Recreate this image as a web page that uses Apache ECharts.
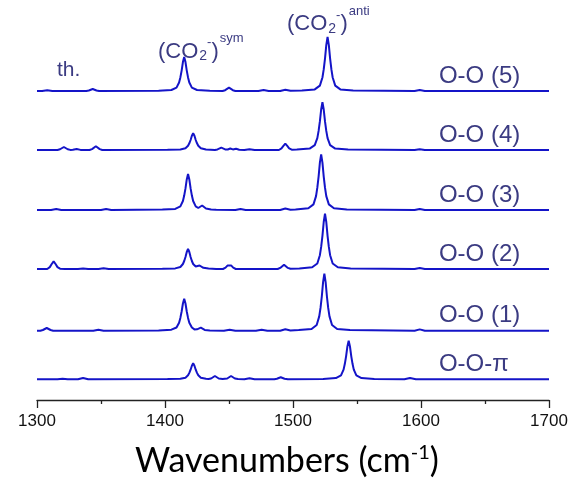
<!DOCTYPE html>
<html>
<head>
<meta charset="utf-8">
<script src="https://cdn.jsdelivr.net/npm/echarts@6/dist/echarts.min.js"></script>
<style>
    html, body { margin: 0; padding: 0; background: #fff; }
    #main { width: 573px; height: 483px; }
</style>
</head>
<body>
<div id="main"></div>
<script>
    // spectra, bottom to top; [wavenumber, intensity above own baseline]
    var names = ['O-O-\u03c0', 'O-O (1)', 'O-O (2)', 'O-O (3)', 'O-O (4)', 'O-O (5)'];
    var offsets = [20.7, 69.3, 131, 190, 250, 309];
    var xMin = 1300, xMax = 1700, xStep = 100;

    var specPi = [
        [1300,0],[1316,0],[1320,0.5],[1324,0],[1332,0],[1336,1.3],[1340,0],
        [1402,0.2],[1412,0.5],[1416,1.6],[1418,4],[1419,6.4],[1420,9.6],[1421,13.6],[1422,16],[1423,13.6],[1424,9.6],[1425,6.4],[1426,4],[1428,1.6],[1432,0.5],
        [1434,0.3],[1436,0.8],[1437.5,2.1],[1439,3.3],[1440.5,2.1],[1442,0.8],[1445,0.3],[1448.6,0.8],[1450.1,2.1],[1451.6,3.3],[1453.1,2.1],[1454.6,0.8],[1457,0.2],[1462,0],[1466,1],[1470,0],
        [1485.4,0],[1487.4,0.5],[1488.9,1.3],[1490.4,2],[1491.9,1.3],[1493.4,0.5],[1496,0],
        [1523.5,0.4],[1533.5,1.2],[1537.5,3.9],[1539.5,9.7],[1540.5,15.5],[1541.5,23.2],[1542.5,32.9],[1543.5,38.7],[1544.5,32.9],[1545.5,23.2],[1546.5,15.5],[1547.5,9.7],[1549.5,3.9],[1553.5,1.2],[1563.5,0.4],
        [1587,0],[1591.4,1.3],[1596,0],[1700,0]
    ];
    var spec1 = [
        [1300,0],[1302.6,0],[1304.6,0.7],[1306.1,1.8],[1307.6,2.7],[1309.1,1.8],[1310.6,0.7],[1312.6,0],[1344,0],[1348,1],[1352,0],
        [1395,0.3],[1405,1],[1409,3.2],[1411,8],[1412,12.8],[1413,19.2],[1414,27.2],[1415,32],[1416,27.2],[1417,19.2],[1418,12.8],[1419,8],[1421,3.2],[1423,1.3],[1425,1.4],[1426.5,2.2],[1428,3],[1429.5,2],[1431,0.8],[1435,0.3],
        [1446,0],[1450.5,1],[1455,0],[1471,0],[1475.5,1],[1480,0],[1490,0],[1494,1.5],[1498,0.2],
        [1504.5,0.6],[1514.5,1.7],[1518.5,5.7],[1520.5,14.3],[1521.5,22.8],[1522.5,34.2],[1523.5,48.5],[1524.5,57],[1525.5,48.5],[1526.5,34.2],[1527.5,22.8],[1528.5,14.3],[1530.5,5.7],[1534.5,1.7],[1544.5,0.6],
        [1595,0],[1599,1.3],[1603,0],[1700,0]
    ];
    var spec2 = [
        [1300,0],[1308,0],[1310,1.9],[1311.5,5],[1313,7.7],[1314.5,5],[1316,1.9],[1318,0.3],[1322,0],[1332,0],[1336,0.5],[1340,0],[1348,0],[1352,0.7],[1356,0],
        [1398,0.2],[1408,0.6],[1412,2],[1414,5],[1415,8],[1416,12],[1417,17],[1418,20],[1419,17],[1420,12],[1421,8],[1422,5],[1424,2.5],[1425.5,3],[1427,3.5],[1428.5,2.5],[1430,1.2],[1434,0.4],[1440,0.1],
        [1445.3,0],[1447.3,1.3],[1448.8,3.4],[1450.3,5.3],[1451.8,3.4],[1453.3,1.3],[1455.3,0],
        [1488,0],[1490,1.1],[1491.5,2.8],[1493,4.3],[1494.5,2.8],[1496,1.1],[1498,0.2],
        [1505,0.6],[1515,1.7],[1519,5.5],[1521,13.8],[1522,22.1],[1523,33.2],[1524,47],[1525,55.3],[1526,47],[1527,33.2],[1528,22.1],[1529,13.8],[1531,5.5],[1535,1.7],[1545,0.6],
        [1595,0],[1599,1],[1603,0],[1700,0]
    ];
    var spec3 = [
        [1300,0],[1311,0],[1315,1],[1319,0],[1350,0],[1354,1],[1358,0],
        [1398,0.4],[1408,1.1],[1412,3.6],[1414,9],[1415,14.4],[1416,21.6],[1417,30.6],[1418,36],[1419,30.6],[1420,21.6],[1421,14.4],[1422,9],[1424,3.6],
        [1426,2],[1427.5,3],[1429,4.5],[1430.5,3],[1432,1.5],[1436,0.5],[1440,0.2],
        [1455,0],[1459,1],[1463,0],[1490,0],[1494,1.5],[1498,0.2],
        [1502,0.6],[1512,1.7],[1516,5.6],[1518,13.9],[1519,22.3],[1520,33.4],[1521,47.3],[1522,55.7],[1523,47.3],[1524,33.4],[1525,22.3],[1526,13.9],[1528,5.6],[1532,1.7],[1542,0.6],
        [1595,0],[1599,1],[1603,0],[1700,0]
    ];
    var spec4 = [
        [1300,0],[1316,0],[1318,0.75],[1319.5,1.95],[1321,3],[1322.5,1.95],[1324,0.75],[1326,0.1],[1328,0.2],[1331,1],[1334,0.1],[1341,0],[1343,0.9],[1344.5,2.4],[1346,3.7],[1347.5,2.4],[1349,0.9],[1351,0],
        [1402,0.2],[1412,0.5],[1416,1.7],[1418,4.2],[1419,6.7],[1420,10],[1421,14.2],[1422,16.7],[1423,14.2],[1424,10],[1425,6.7],[1426,4.2],[1428,1.7],[1432,0.5],
        [1439,0.1],[1441,0.6],[1442.5,1.5],[1444,2.3],[1445.5,1.5],[1447,0.6],[1449,0.5],[1451,1.5],[1453,0.6],[1455.5,1.3],[1458,0.3],[1462,0],[1466,0.7],[1470,0],
        [1489,0],[1491,1.6],[1492.5,4.1],[1494,6.3],[1495.5,4.1],[1497,1.6],[1499,0.3],
        [1503,0.5],[1513,1.4],[1517,4.8],[1519,11.9],[1520,19.1],[1521,28.6],[1522,40.5],[1523,47.7],[1524,40.5],[1525,28.6],[1526,19.1],[1527,11.9],[1529,4.8],[1533,1.4],[1543,0.5],
        [1595,0],[1599,0.7],[1603,0],[1700,0]
    ];
    var spec5 = [
        [1300,0],[1304,0],[1308,0.7],[1312,0],[1338.5,0],[1340.5,0.5],[1342,1.3],[1343.5,2],[1345,1.3],[1346.5,0.5],[1348.5,0],
        [1395,0.3],[1405,1],[1409,3.4],[1411,8.5],[1412,13.6],[1413,20.4],[1414,28.9],[1415,34],[1416,28.9],[1417,20.4],[1418,13.6],[1419,8.5],[1421,3.4],[1425,1],[1435,0.3],
        [1445,0],[1447,0.8],[1448.5,2.1],[1450,3.3],[1451.5,2.1],[1453,0.8],[1455,0],[1473,0],[1477,1],[1481,0],[1490,0],[1494,1.3],[1498,0.2],
        [1507,0.5],[1517,1.6],[1521,5.4],[1523,13.5],[1524,21.6],[1525,32.4],[1526,45.9],[1527,54],[1528,45.9],[1529,32.4],[1530,21.6],[1531,13.5],[1533,5.4],[1537,1.6],[1547,0.5],
        [1595,0],[1599,1],[1603,0],[1700,0]
    ];
    var spectra = [specPi, spec1, spec2, spec3, spec4, spec5];

    var lineColor = '#1414c8';
    var textColor = '#3b3b82';
    var sans = '"Liberation Sans", Arial, sans-serif';

    var myChart = echarts.init(document.getElementById('main'));

    var series = [];
    for (var i = 0; i < spectra.length; i++) {
        series.push({
            name: names[i],
            type: 'line',
            showSymbol: false,
            animation: false,
            lineStyle: { color: lineColor, width: 2 },
            data: spectra[i].map(function (p) {
                return [p[0], p[1] + this];
            }, offsets[i])
        });
    }

    var option = {
        backgroundColor: '#fff',
        grid: { left: 37, right: 24, top: 0, bottom: 83 },
        xAxis: {
            type: 'value',
            min: xMin,
            max: xMax,
            interval: xStep,
            axisLine: { show: true, onZero: false, lineStyle: { color: '#222', width: 1.3 } },
            axisTick: { show: true, inside: false, length: 8, lineStyle: { color: '#222', width: 1.3 } },
            minorTick: { show: true, splitNumber: 2, length: 4, lineStyle: { color: '#222', width: 1.3 } },
            splitLine: { show: false },
            axisLabel: {
                fontSize: 17, color: '#111', margin: 13, fontFamily: sans,
                formatter: function (v) { return String(v); }
            }
        },
        yAxis: { type: 'value', min: 0, max: 400, show: false },
        series: series
    };
    myChart.setOption(option);

    // text helpers: pieces with sub/superscripts laid out with measured widths
    var ctx = document.createElement('canvas').getContext('2d');
    function textWidth(t, size, family) {
        ctx.font = size + 'px ' + family;
        return ctx.measureText(t).width;
    }
    function scriptText(x, base, parts, family, color) {
        var els = [];
        parts.forEach(function (p) {
            x += p.gap || 0;
            els.push({
                type: 'text', silent: true,
                x: x, y: base + (p.dy || 0) - 0.35 * p.size,
                style: { text: p.t, font: p.size + 'px ' + family, fill: color, textAlign: 'left', verticalAlign: 'middle' }
            });
            x += textWidth(p.t, p.size, family);
        });
        return els;
    }
    function px(x, y) { return myChart.convertToPixel({ gridIndex: 0 }, [x, y]); }
    function co2(tag) {
        return [
            { t: '(CO', size: 22 }, { t: '2', size: 14, dy: 2, gap: 1 }, { t: '-', size: 13, dy: -12, gap: 0 },
            { t: ')', size: 22, gap: 0 }, { t: tag, size: 13, dy: -16, gap: 1 }
        ];
    }

    var graphics = [];
    // spectrum names on the right
    for (var j = 0; j < names.length; j++) {
        var q = px(1614, offsets[j] + 15);
        graphics.push({
            type: 'text', silent: true, x: q[0], y: q[1],
            style: { text: names[j], font: '24px ' + sans, fill: textColor, textAlign: 'left', verticalAlign: 'middle' }
        });
    }
    var topBase = offsets[5];
    var a = px(1315.6, topBase + 13);
    graphics = graphics.concat(scriptText(a[0], a[1], [{ t: 'th.', size: 21 }], sans, textColor));
    var s = px(1394.5, topBase + 31.7);
    graphics = graphics.concat(scriptText(s[0], s[1], co2('sym'), sans, textColor));
    var n = px(1495.3, topBase + 59);
    graphics = graphics.concat(scriptText(n[0], n[1], co2('anti'), sans, textColor));

    // axis title
    var titleFont = 'Lato, "Open Sans", sans-serif';
    var tParts = [{ t: 'Wavenumbers (cm', size: 34 }, { t: '-1', size: 20, dy: -13 }, { t: ')', size: 34 }];
    var tw = 0;
    tParts.forEach(function (p) { tw += textWidth(p.t, p.size, titleFont); });
    graphics = graphics.concat(scriptText(287 - tw / 2, 473, tParts, titleFont, '#000'));

    myChart.setOption({ graphic: graphics });
</script>
</body>
</html>
